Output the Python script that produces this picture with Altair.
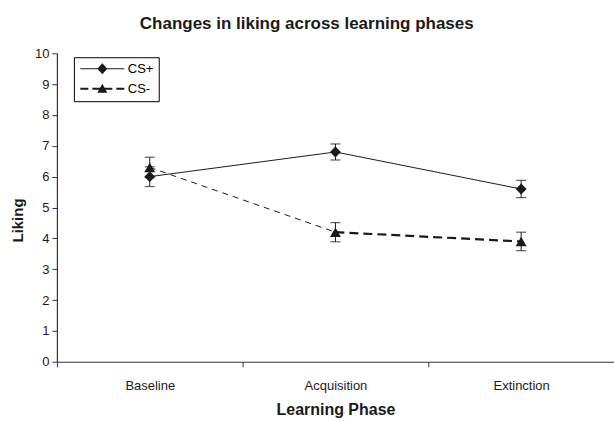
import altair as alt
import pandas as pd

# Mean liking ratings (and error margins) per learning phase
phases = ["Baseline", "Acquisition", "Extinction"]
series = ["CS+", "CS-"]
cs_plus = [6.0, 6.8, 5.6]
cs_plus_err = [0.32, 0.26, 0.28]
cs_minus = [6.3, 4.2, 3.9]
cs_minus_err = [0.33, 0.31, 0.30]

FONT = "Liberation Sans"
INK = "#1a1a1a"


def series_frame(name, means, errs):
    return pd.DataFrame({
        "phase": phases,
        "series": name,
        "liking": means,
        "lo": [m - e for m, e in zip(means, errs)],
        "hi": [m + e for m, e in zip(means, errs)],
    })


plus = series_frame("CS+", cs_plus, cs_plus_err)
minus = series_frame("CS-", cs_minus, cs_minus_err)

# CS- connecting line is drawn segment by segment (the two legs are styled differently)
seg_rows = []
for i in range(len(phases) - 1):
    for j in (i, i + 1):
        seg_rows.append({"seg": i, "phase": phases[j], "liking": cs_minus[j]})
segs = pd.DataFrame(seg_rows)

x_enc = alt.X(
    "phase:N",
    sort=phases,
    scale=alt.Scale(type="band", paddingInner=0, paddingOuter=0),
    axis=alt.Axis(
        title="Learning Phase",
        tickBand="extent",
        labelAngle=0,
        labelPadding=13,
        titlePadding=9,
        titleFontSize=16,
    ),
)
y_scale = alt.Scale(domain=[0, 10], nice=False, zero=True)
y_axis = alt.Axis(
    title="Liking",
    values=list(range(0, 11)),
    labelOverlap=False,
    labelPadding=3,
    titlePadding=8,
    titleY=167,
    titleX=-31,
)


def y_of(field):
    return alt.Y(field, type="quantitative", scale=y_scale, axis=y_axis)


# error bars: stem + caps
def error_layers(df):
    stem = alt.Chart(df).mark_rule(color=INK, strokeWidth=1).encode(
        x=x_enc, y=y_of("lo"), y2="hi:Q"
    )
    cap_lo = alt.Chart(df).mark_tick(color=INK, size=10, thickness=1.2, orient="horizontal").encode(
        x=x_enc, y=y_of("lo")
    )
    cap_hi = alt.Chart(df).mark_tick(color=INK, size=10, thickness=1.2, orient="horizontal").encode(
        x=x_enc, y=y_of("hi")
    )
    return [stem, cap_lo, cap_hi]


line_plus = alt.Chart(plus).mark_line(color=INK, strokeWidth=1).encode(x=x_enc, y=y_of("liking"))
line_minus_a = alt.Chart(segs[segs.seg == 0]).mark_line(
    color=INK, strokeWidth=1, strokeDash=[6, 5]
).encode(x=x_enc, y=y_of("liking"))
line_minus_b = alt.Chart(segs[segs.seg == 1]).mark_line(
    color=INK, strokeWidth=2.2, strokeDash=[9, 5]
).encode(x=x_enc, y=y_of("liking"))

pts_plus = alt.Chart(plus).mark_point(
    shape="diamond", size=120, filled=True, color=INK, opacity=1
).encode(x=x_enc, y=y_of("liking"))
pts_minus = alt.Chart(minus).mark_point(
    shape="triangle-up", size=120, filled=True, color=INK, opacity=1
).encode(x=x_enc, y=y_of("liking"))

# legend symbols: filled paths combining the line sample and the marker
# (units of half the symbol width, 5 px at symbolSize 100)
legend_paths = [
    # solid thin line + diamond
    "M-4.4,-0.1L4.4,-0.1L4.4,0.1L-4.4,0.1Z"
    "M0,-1.1L1,0L0,1.1L-1,0Z",
    # thick dashes + triangle
    "M-4.4,-0.2L-2.8,-0.2L-2.8,0.2L-4.4,0.2Z"
    "M-2.0,-0.2L-0.4,-0.2L-0.4,0.2L-2.0,0.2Z"
    "M0.4,-0.2L2.0,-0.2L2.0,0.2L0.4,0.2Z"
    "M2.8,-0.2L4.4,-0.2L4.4,0.2L2.8,0.2Z"
    "M0,-1L1,0.8L-1,0.8Z",
]
legend_layer = (
    alt.Chart(pd.DataFrame({"series": series}))
    .transform_filter("false")
    .mark_point(filled=True, color=INK, opacity=1)
    .encode(
        shape=alt.Shape(
            "series:N",
            scale=alt.Scale(domain=series, range=legend_paths),
            legend=alt.Legend(
                title=None,
                orient="none",
                legendX=17,
                legendY=4,
                direction="vertical",
                symbolOffset=17,
                labelOffset=19,
                labelFont=FONT,
                labelFontSize=13,
                labelColor="#000",
                rowPadding=6,
                padding=5,
                strokeColor="#000",
                symbolFillColor=INK,
                symbolStrokeWidth=0,
                symbolOpacity=1,
                symbolSize=100,
            ),
        ),
    )
)

chart = (
    alt.layer(
        line_plus,
        line_minus_a,
        line_minus_b,
        *error_layers(plus),
        *error_layers(minus),
        pts_plus,
        pts_minus,
        legend_layer,
    )
    .properties(
        width=558,
        height=309,
        title=alt.TitleParams(
            "Changes in liking across learning phases",
            anchor="middle",
            frame="bounds",
            font=FONT,
            fontSize=17,
            fontWeight="bold",
            color="#1a1a1a",
            offset=14,
            dx=-6,
        ),
        autosize=alt.AutoSizeParams(type="none"),
        padding={"left": 57, "top": 53, "right": 0, "bottom": 59},
    )
    .configure_view(stroke=None)
    .configure_axis(
        domainColor="#333",
        domainWidth=1.2,
        tickColor="#333",
        tickWidth=1,
        tickSize=5,
        grid=False,
        labelFont=FONT,
        labelFontSize=13,
        labelColor="#1a1a1a",
        titleFont=FONT,
        titleFontSize=15,
        titleFontWeight="bold",
        titleColor="#1a1a1a",
    )
)

chart.save("out.html", embed_options={"renderer": "svg", "actions": False})
